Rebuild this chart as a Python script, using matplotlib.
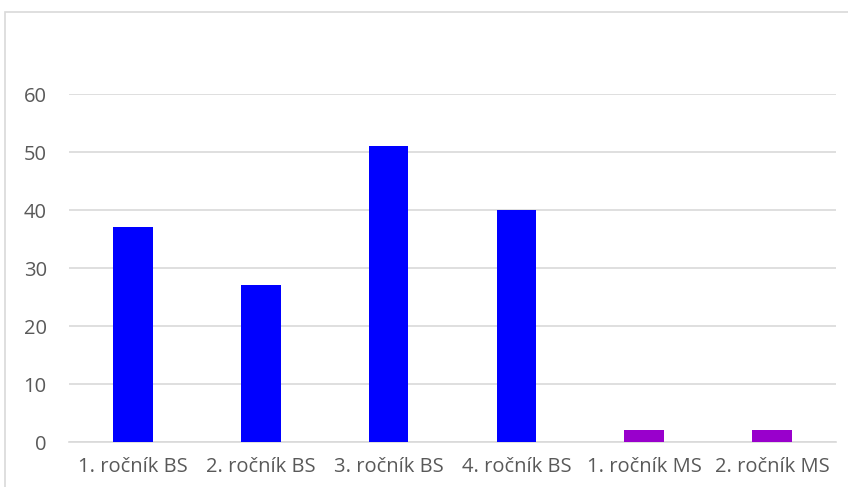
import matplotlib.pyplot as plt
from matplotlib.patches import Rectangle

categories = ["1. ročník BS", "2. ročník BS", "3. ročník BS", "4. ročník BS", "1. ročník MS", "2. ročník MS"]
values = [37, 27, 51, 40, 2, 2]
bar_colors = ["#0000FF", "#0000FF", "#0000FF", "#0000FF", "#9900CC", "#9900CC"]
y_ticks = [0, 10, 20, 30, 40, 50, 60]

plt.rcParams['font.family'] = ['Open Sans', 'DejaVu Sans']

W, H = 848, 487
fig = plt.figure(figsize=(W / 100, H / 100), dpi=100)

# chart border (cropped on right and bottom)
fig.patches.append(Rectangle((4.5 / W, -0.1), 1.2, 1 - 11.5 / H + 0.1, transform=fig.transFigure,
                             fill=False, edgecolor="#D9D9D9", linewidth=1.2))

ax = fig.add_axes([69 / W, 1 - 442 / H, (836 - 69) / W, (442 - 94) / H])
x = range(len(categories))
ax.bar(x, values, width=0.31, color=bar_colors, zorder=3)
ax.set_xlim(-0.5, len(categories) - 0.5)
ax.set_ylim(0, 60)
ax.set_yticks(y_ticks)
ax.set_xticks(list(x))
ax.set_xticklabels(categories)
ax.grid(axis="y", color="#D9D9D9", linewidth=1.2, zorder=0)
for s in ["top", "right", "left"]:
    ax.spines[s].set_visible(False)
ax.spines["bottom"].set_color("#D9D9D9")
ax.spines["bottom"].set_linewidth(1.2)
ax.tick_params(length=0, labelsize=14.5, labelcolor="#595959")
ax.tick_params(axis="y", pad=16)
ax.tick_params(axis="x", pad=11)

fig.savefig("out.png", dpi=100)
